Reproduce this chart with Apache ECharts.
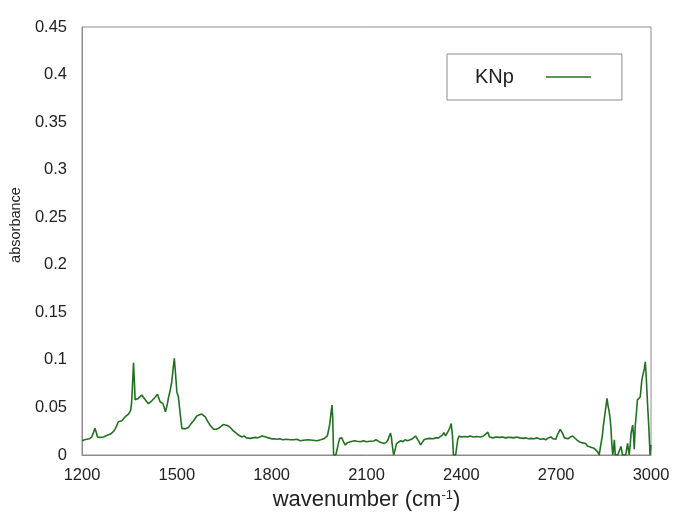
<!DOCTYPE html>
<html>
<head>
<meta charset="utf-8">
<script src="https://cdn.jsdelivr.net/npm/echarts@6/dist/echarts.min.js"></script>
<style>html,body{margin:0;padding:0;background:#fff;}#c{width:674px;height:515px;}</style>
</head>
<body>
<div id="c"></div>
<script>
var seriesName = 'KNp';
var xTicks = [1200, 1500, 1800, 2100, 2400, 2700, 3000];
var yTicks = [0, 0.05, 0.1, 0.15, 0.2, 0.25, 0.3, 0.35, 0.4, 0.45];
var wavenumber = [
1200,1208,1215,1223,1231,1237,1241,1245,1249,1256,1262,1268,1273,1278,1283,1290,1299,1306,1315,1320,
1326,1331,1336,1341,1347,1351,1354,1357,1359,1363,1366,1368,1373,1378,1383,1389,1394,1400,1405,1410,
1416,1421,1426,1432,1439,1443,1447,1452,1456,1460,1464,1469,1474,1479,1484,1488,1492,1496,1500,1505,
1510,1516,1521,1526,1532,1537,1545,1553,1563,1570,1579,1585,1590,1595,1600,1606,1611,1616,1625,1632,
1640,1647,1653,1660,1665,1669,1677,1684,1690,1695,1700,1706,1713,1720,1726,1732,1740,1748,1755,1762,
1770,1775,1782,1790,1800,1808,1817,1825,1835,1845,1859,1870,1880,1890,1900,1915,1930,1944,1955,1965,
1970,1976,1980,1984,1988,1991,1993,1996,2003,2007,2011,2015,2019,2022,2027,2033,2040,2049,2055,2062,
2070,2081,2090,2100,2110,2123,2130,2140,2148,2155,2162,2168,2172,2176,2179,2181,2184,2186,2190,2195,
2200,2208,2215,2222,2230,2238,2245,2250,2255,2260,2266,2271,2276,2282,2290,2300,2310,2320,2328,2334,
2340,2345,2350,2355,2360,2365,2368,2372,2375,2382,2386,2389,2393,2400,2410,2419,2428,2438,2448,2461,
2470,2477,2484,2489,2493,2500,2510,2520,2530,2540,2548,2556,2565,2575,2585,2595,2605,2612,2620,2630,
2640,2650,2660,2667,2675,2683,2690,2699,2705,2713,2720,2726,2731,2738,2745,2752,2758,2765,2773,2780,
2786,2793,2799,2805,2812,2820,2826,2832,2836,2842,2846,2849,2855,2861,2864,2867,2870,2873,2876,2879,
2882,2884,2887,2895,2901,2905,2910,2920,2923,2926,2931,2934,2937,2942,2945,2947,2950,2954,2957,2962,
2966,2971,2975,2979,2982,2985,2987,2990,2993,2997,3000
];
var absorbance = [
0.015,0.016,0.0165,0.017,0.019,0.021,0.028,0.024,0.019,0.0185,0.0186,0.019,0.021,0.0205,0.020,0.022,0.0245,0.028,0.035,0.036,
0.036,0.038,0.040,0.042,0.043,0.044,0.047,0.055,0.068,0.097,0.075,0.058,0.058,0.0595,0.061,0.063,0.061,0.058,0.056,0.054,
0.055,0.057,0.0585,0.061,0.064,0.062,0.056,0.055,0.054,0.050,0.0455,0.052,0.061,0.068,0.077,0.090,0.1017,0.085,0.0666,0.061,
0.045,0.028,0.028,0.0275,0.028,0.029,0.033,0.036,0.041,0.042,0.043,0.041,0.040,0.037,0.034,0.031,0.029,0.027,0.027,0.028,
0.030,0.032,0.032,0.031,0.029,0.029,0.026,0.024,0.022,0.021,0.021,0.019,0.020,0.018,0.018,0.0175,0.018,0.0185,0.018,0.019,
0.020,0.020,0.019,0.018,0.017,0.017,0.0165,0.017,0.016,0.0165,0.016,0.016,0.0165,0.015,0.0155,0.016,0.0155,0.015,0.016,0.017,
0.0175,0.020,0.026,0.033,0.045,0.0525,0.040,0.000,0.000,0.000,0.012,0.0175,0.019,0.018,0.014,0.0105,0.013,0.014,0.013,0.015,
0.0145,0.014,0.015,0.014,0.0145,0.0147,0.016,0.014,0.013,0.012,0.013,0.016,0.020,0.023,0.018,0.012,0.004,0.000,0.005,0.012,
0.013,0.015,0.014,0.016,0.015,0.016,0.017,0.0165,0.020,0.019,0.014,0.0105,0.013,0.016,0.017,0.0175,0.017,0.018,0.018,0.0185,
0.021,0.0235,0.020,0.021,0.026,0.030,0.033,0.020,0.000,0.000,0.010,0.017,0.020,0.019,0.0195,0.019,0.020,0.019,0.0195,0.019,
0.020,0.022,0.024,0.019,0.0175,0.018,0.019,0.0185,0.019,0.018,0.0185,0.0185,0.018,0.019,0.018,0.0175,0.018,0.017,0.0175,0.017,
0.018,0.0165,0.017,0.016,0.018,0.019,0.017,0.0165,0.022,0.027,0.023,0.018,0.016,0.017,0.019,0.020,0.018,0.016,0.014,0.013,
0.011,0.012,0.0095,0.009,0.008,0.007,0.005,0.003,0.000,0.000,0.020,0.030,0.045,0.0595,0.052,0.047,0.040,0.030,0.012,0.000,
0.008,0.016,0.000,0.000,0.000,0.009,0.000,0.000,0.006,0.0123,0.000,0.010,0.023,0.0315,0.020,0.006,0.030,0.045,0.058,0.059,
0.061,0.079,0.085,0.091,0.098,0.082,0.068,0.048,0.030,0.000,0.0105
];

var data = wavenumber.map(function (w, i) { return [w, absorbance[i]]; });
var chart = echarts.init(document.getElementById('c'), null, {renderer: 'canvas'});
var font = '"Liberation Sans", Arial, sans-serif';
var lineColor = '#237023';
chart.setOption({
  animation: false,
  backgroundColor: '#fff',
  textStyle: {fontFamily: font},
  grid: {left: 82, right: 23, top: 27, bottom: 60, outerBoundsMode: 'none', containLabel: false,
    show: true, borderColor: '#8c8c8c', borderWidth: 1, backgroundColor: 'transparent'},
  legend: {
    data: [{name: seriesName, icon: 'rect'}],
    left: 447, top: 54,
    align: 'right',
    padding: [13, 31, 13, 28],
    borderColor: '#8c8c8c', borderWidth: 1,
    itemWidth: 45, itemHeight: 1.6,
    itemStyle: {color: lineColor},
    formatter: '{t|{name}}',
    textStyle: {fontSize: 20, color: '#222', fontFamily: font,
      rich: {t: {padding: [0, 27, 0, 0], fontSize: 20, color: '#222', fontFamily: font}}}
  },
  xAxis: {
    type: 'value', min: xTicks[0], max: xTicks[xTicks.length - 1], interval: 300,
    axisLine: {show: true, lineStyle: {color: '#8c8c8c'}},
    axisTick: {show: false}, splitLine: {show: false},
    axisLabel: {fontSize: 16.5, color: '#222', margin: 12, fontFamily: font,
      formatter: function (v) { return String(v); }},
    name: '{a|wavenumber (cm}{s|-1}{a|)}', nameLocation: 'middle', nameGap: 30,
    nameTextStyle: {
      rich: {
        a: {fontSize: 22, color: '#222', fontFamily: font},
        s: {fontSize: 13, color: '#222', fontFamily: font, padding: [0, 0, 10, 0]}
      }
    }
  },
  yAxis: {
    type: 'value', min: yTicks[0], max: yTicks[yTicks.length - 1], interval: 0.05,
    axisLine: {show: true, lineStyle: {color: '#8c8c8c'}},
    axisTick: {show: false}, splitLine: {show: false},
    axisLabel: {fontSize: 16.5, color: '#222', margin: 15, fontFamily: font,
      formatter: function (v) { return String(Math.round(v * 100) / 100); }},
    name: 'absorbance', nameLocation: 'middle', nameGap: 55,
    nameTextStyle: {fontSize: 14.5, color: '#222', fontFamily: font, padding: [0, 0, 0, 32]}
  },
  series: [{
    name: seriesName, type: 'line', data: data, symbol: 'none', clip: true,
    lineStyle: {color: lineColor, width: 1.6},
    itemStyle: {color: lineColor}
  }]
});
</script>
</body>
</html>
